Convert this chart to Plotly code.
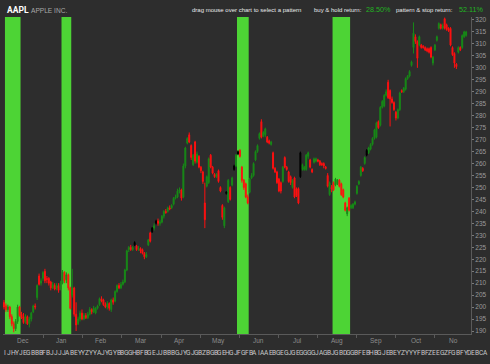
import plotly.graph_objects as go

# ---------------- data ----------------
opens = [202, 200.5, 199, 200, 196, 193, 191, 194, 200, 197,
         196, 194, 196, 193, 195, 198, 200.5, 204, 213, 210,
         212, 215, 212, 212, 210.5, 208, 209, 208, 209, 207.5,
         210, 214.5, 211.5, 213.5, 208, 205, 208, 197, 193, 195,
         197.5, 195, 196.5, 195.5, 197, 199, 198, 197.5, 199.5, 201,
         203.5, 203, 201, 200, 201.5, 199, 203, 202.5, 206.5, 209,
         208, 209.5, 210.5, 215.5, 224, 225, 224, 226, 225.5, 224,
         224.5, 224, 222.5, 221, 226, 231, 231.5, 233, 235, 236,
         235, 235.5, 238, 240, 240, 241.5, 241.5, 243, 245.5, 246,
         248.5, 249, 246, 259, 268.5, 272, 267.5, 259.5, 269, 260.5,
         263, 258.5, 256.5, 243.5, 250.5, 252, 263.5, 258.5, 255.5, 254.5,
         257, 250, 242.5, 234, 247.5, 244, 250, 251, 257.5, 259,
         264, 265.5, 258.5, 253, 251.5, 246, 248, 254, 255, 261.5,
         265, 270.5, 277.5, 271.5, 272, 271, 269.5, 268, 264.5, 258,
         256.5, 253.5, 252, 252.5, 262.5, 258.5, 256.5, 254.5, 250, 254,
         249.5, 249.5, 254.5, 257.5, 257.5, 257.5, 263, 261.5, 257.5, 260.5,
         261, 261.5, 261, 260, 260, 258.5, 255, 247, 250, 252,
         251, 251.5, 253, 251.5, 249, 243.5, 239, 245.5, 241.5, 241.5,
         243, 247.5, 251.5, 255, 258, 260, 263.5, 264.5, 266, 268,
         270.5, 271, 277.5, 276, 283.5, 284, 288.5, 294, 290.5, 287,
         285.5, 281.5, 279, 282.5, 290.5, 290, 291, 295.5, 296.5, 301,
         308.5, 313, 311, 309.5, 309.5, 309, 308.5, 308, 308, 308.5,
         302, 307.5, 311.5, 316.5, 318, 316.5, 320.5, 318, 316.5, 316.5,
         308.5, 306, 301.5, 306.5, 308.5, 308.5, 313, 313.5]

closes = [200, 199, 200, 196, 193, 191, 194, 200, 196.5, 195.5,
          193.5, 196, 193, 195, 197.5, 200.5, 200, 209, 209.5, 211,
          214.5, 211, 211.5, 210, 208, 209.5, 207.5, 209, 207, 210,
          214.5, 211, 213.5, 208, 199.5, 208, 197, 192.5, 195, 197.5,
          195, 196.5, 195.5, 197, 199, 198, 199.5, 199.5, 200.5, 203.5,
          202.5, 201, 200, 201.5, 199.5, 203, 202, 206.5, 209, 208,
          209.5, 210.5, 215.5, 223.5, 225, 224, 225, 227, 224, 224.5,
          223.5, 222.5, 221, 222, 228, 227.5, 233, 234, 236, 235,
          235.5, 238, 240, 239.5, 241.5, 241, 242.5, 245.5, 246, 248.5,
          249, 245.5, 259, 266.5, 270.5, 269, 262.5, 263.5, 261, 264,
          258.5, 257, 252.5, 236.5, 254.5, 262, 258.5, 256, 254.5, 255.5,
          252.5, 248.5, 237.5, 241.5, 248, 253, 245, 254, 259, 263.5,
          265, 263, 253, 250, 246, 243.5, 253.5, 255, 260, 265,
          267.5, 272.5, 271, 273, 274.5, 269, 268.5, 269, 258, 256.5,
          252, 248.5, 248.5, 258.5, 258.5, 257.5, 252.5, 252, 253, 246,
          246.5, 243.5, 264.5, 259.5, 258.5, 263.5, 264.5, 258.5, 256.5, 262,
          262, 261, 259.5, 259.5, 259, 258, 250.5, 252, 249.5, 249,
          253.5, 253, 250.5, 247, 246, 240.5, 241.5, 240.5, 242.5, 243,
          244, 250.5, 252.5, 258.5, 257, 262.5, 265.5, 266.5, 268, 270.5,
          274, 277, 275, 283.5, 286, 288.5, 290, 287.5, 287, 285.5,
          282.5, 279, 282.5, 289.5, 290, 291.5, 295.5, 296.5, 298.5, 302.5,
          314.5, 311, 304, 313, 308.5, 308.5, 307.5, 307, 306.5, 304.5,
          304.5, 309.5, 313, 318.5, 316.5, 317.5, 316.5, 316, 315.5, 309.5,
          305.5, 302, 300.5, 308.5, 307.5, 313.5, 315, 315]

highs = [203, 201.5, 201, 200.5, 197, 194, 195, 201, 200.5, 198,
         197.5, 197, 196.5, 196, 198, 201, 201.5, 209.5, 214, 212,
         215, 216, 213, 212.5, 211, 210.5, 210, 210, 210, 211,
         215.5, 215, 214.5, 214, 208.5, 216, 208.5, 202, 196, 198.5,
         199, 197.5, 197.5, 198, 200, 199.5, 200.5, 200, 201, 204,
         204.5, 203.5, 202, 202.5, 202, 203.5, 204, 207, 209.5, 210,
         210.5, 211.5, 216, 224, 225.5, 226, 225.5, 227.5, 226, 225.5,
         225, 224.5, 223, 223, 228.5, 231.5, 233.5, 235, 236.5, 237,
         236.5, 238.5, 240.5, 241, 242, 242.5, 243, 246, 247, 249.5,
         250, 249.5, 260, 267, 271, 273, 268, 264, 269.5, 265,
         263.5, 259, 257, 252, 255, 262.5, 264, 259, 256, 256,
         257.5, 250.5, 243, 242, 248.5, 253.5, 250.5, 254.5, 259.5, 264,
         265.5, 266, 259, 253.5, 252, 247, 254, 256, 260.5, 265.5,
         268, 273, 278.5, 273.5, 275, 271.5, 270, 269.5, 265, 258.5,
         257, 254, 252.5, 259, 263, 259, 257, 255, 253.5, 254.5,
         250, 250, 265, 260, 259, 264, 265, 262, 258, 262.5,
         262.5, 262, 261.5, 260.5, 260.5, 259, 256, 252.5, 251, 252.5,
         254, 253.5, 253.5, 252, 249.5, 244, 242, 246, 243, 243.5,
         244.5, 251, 253, 259, 258.5, 263, 266, 267, 268.5, 271,
         274.5, 277.5, 278, 284, 286.5, 289, 291, 295, 291, 288,
         286, 282, 283, 290, 291, 292, 296, 297, 299, 303,
         319, 314, 311.5, 313.5, 310, 309.5, 309, 308.5, 308.5, 309,
         305, 310, 313.5, 319, 318.5, 318.5, 321, 318.5, 317, 317,
         309, 306.5, 302, 309, 309, 314, 315.5, 315.5]

lows = [199, 198, 198, 195, 192, 189.5, 190, 193, 196, 195,
        193, 193, 192.5, 191.5, 194, 197.5, 199, 203, 209, 209,
        211, 210, 210, 209, 207, 207.5, 207, 207, 206, 207,
        209.5, 210, 210, 207, 199, 204, 196, 190, 192.5, 194,
        194.5, 194.5, 195, 195, 196.5, 197, 197.5, 197, 199, 200.5,
        202, 200.5, 199.5, 199, 198.5, 198, 201, 202, 206, 207.5,
        207.5, 209, 210, 215, 223, 223.5, 223.5, 225.5, 223.5, 223.5,
        222.5, 222, 220, 220.5, 225.5, 227, 231, 232, 234.5, 234,
        234, 235, 237, 239, 239.5, 240.5, 241, 242.5, 245, 245.5,
        247.5, 244.5, 245.5, 258, 268, 268.5, 261.5, 259, 260, 260,
        258, 256, 251.5, 233, 250, 251.5, 258, 255.5, 254, 254,
        252, 248, 236.5, 233, 247, 243.5, 244.5, 250.5, 257, 258.5,
        263.5, 262.5, 252, 249, 245.5, 243, 247.5, 253.5, 254.5, 261,
        264.5, 270, 270.5, 271, 271, 268.5, 268, 267.5, 257.5, 256,
        251.5, 248, 247.5, 252, 258, 257, 252, 251, 249.5, 245.5,
        246, 243, 254, 257, 257, 257, 262, 258, 256, 260,
        260.5, 260.5, 259, 259, 258, 257.5, 250, 246.5, 248, 248.5,
        250.5, 251, 250, 246.5, 245.5, 240, 238, 240, 241, 241,
        242.5, 247, 251, 254.5, 256.5, 259.5, 263, 264, 265.5, 267.5,
        270, 270.5, 274.5, 275.5, 283, 283.5, 288, 287, 275.5, 285,
        282, 278, 278.5, 282, 289.5, 289.5, 290.5, 295, 296, 300.5,
        306, 310, 300, 309, 308, 308, 307, 306.5, 306, 304,
        301, 307, 311, 316, 316, 316, 316, 315.5, 315, 309,
        305, 300, 299.5, 306, 307, 308, 312.5, 313]

black_bars = [67, 76, 78, 114, 118, 120, 152, 186]

pattern_start = [1, 30, 120, 169]
pattern_end = [8, 34, 125, 177]

month_labels = ["Dec", "Jan", "Feb", "Mar", "Apr", "May", "Jun", "Jul", "Aug", "Sep", "Oct", "No"]
month_label_pos = [9.7, 29.7, 49.7, 70.2, 90.2, 110.2, 130.5, 150.5, 170.9, 190.9, 211.4, 230.3]
month_bounds = [20.2, 40.2, 60.4, 80.6, 100.6, 120.6, 140.6, 160.8, 180.8, 200.9, 220.6]

y_ticks = list(range(190, 325, 5))

pattern_letters = ("IJHYJEGBBBFBJJJJABEYYZYYAJYGYBBGGHBFBGEJJBBBGJYGJGBZBGBGEHGJFGF"
                   "BAIAAEBGEGJGEGGGGJAGBJGBDGGBFEBHBGJEBEYZYYYFBFZEEGZFGBFYDEBCA")

buy_hold = "28.50%"
pattern_stop = "52.11%"

# ---------------- figure ----------------
W, H = 490, 364
ML, MR, MT, MB = 3, 19, 17, 30
PW, PH = W - ML - MR, H - MT - MB

BG = "#2d2d2d"
UP = "#178a17"
DOWN = "#ff1010"
BAND = "#4dd435"

idx = list(range(len(opens)))
norm = [i for i in idx if i not in black_bars]

fig = go.Figure()
fig.add_trace(go.Candlestick(
    x=norm,
    open=[opens[i] for i in norm], high=[highs[i] for i in norm],
    low=[lows[i] for i in norm], close=[closes[i] for i in norm],
    increasing=dict(line=dict(color=UP, width=1), fillcolor=UP),
    decreasing=dict(line=dict(color=DOWN, width=1), fillcolor=DOWN),
    whiskerwidth=0, showlegend=False, hoverinfo="skip",
))
fig.add_trace(go.Candlestick(
    x=black_bars,
    open=[opens[i] for i in black_bars], high=[highs[i] for i in black_bars],
    low=[lows[i] for i in black_bars], close=[closes[i] for i in black_bars],
    increasing=dict(line=dict(color="#000000", width=1), fillcolor="#000000"),
    decreasing=dict(line=dict(color="#000000", width=1), fillcolor="#000000"),
    whiskerwidth=0, showlegend=False, hoverinfo="skip",
))

shapes = []
for s, e in zip(pattern_start, pattern_end):
    shapes.append(dict(type="rect", xref="x", yref="paper", x0=s - 0.5, x1=e + 0.5,
                       y0=0, y1=1, fillcolor=BAND, line=dict(width=0), layer="below"))


def px2paper_x(px):
    return (px - ML) / PW


def py2paper_y(py):
    return (H - MB - py) / PH


annotations = []
FONT = "Liberation Sans"
# header
annotations.append(dict(text="<b>AAPL</b>", x=px2paper_x(4.5), y=py2paper_y(10), xref="paper", yref="paper",
                        xanchor="left", yanchor="middle", showarrow=False,
                        font=dict(family="Roboto", size=8.5, color="#ffffff")))
annotations.append(dict(text="APPLE INC.", x=px2paper_x(28.5), y=py2paper_y(10.5), xref="paper", yref="paper",
                        xanchor="left", yanchor="middle", showarrow=False,
                        font=dict(family=FONT, size=6.6, color="#a8a8a8")))
annotations.append(dict(text="drag mouse over chart to select a pattern", x=px2paper_x(190), y=py2paper_y(10),
                        xref="paper", yref="paper", xanchor="left", yanchor="middle", showarrow=False,
                        font=dict(family=FONT, size=6, color="#e8e8e8")))
annotations.append(dict(text="buy &amp; hold return:", x=px2paper_x(312), y=py2paper_y(10),
                        xref="paper", yref="paper", xanchor="left", yanchor="middle", showarrow=False,
                        font=dict(family=FONT, size=6, color="#e8e8e8")))
annotations.append(dict(text=buy_hold, x=px2paper_x(364), y=py2paper_y(10),
                        xref="paper", yref="paper", xanchor="left", yanchor="middle", showarrow=False,
                        font=dict(family=FONT, size=7.2, color="#22b422")))
annotations.append(dict(text="pattern &amp; stop return:", x=px2paper_x(394), y=py2paper_y(10),
                        xref="paper", yref="paper", xanchor="left", yanchor="middle", showarrow=False,
                        font=dict(family=FONT, size=6, color="#e8e8e8")))
annotations.append(dict(text=pattern_stop, x=px2paper_x(457), y=py2paper_y(10),
                        xref="paper", yref="paper", xanchor="left", yanchor="middle", showarrow=False,
                        font=dict(family=FONT, size=7.2, color="#22b422")))

# month labels
for lab, pos in zip(month_labels, month_label_pos):
    annotations.append(dict(text=lab, x=pos, y=py2paper_y(340.5), xref="x", yref="paper",
                            xanchor="center", yanchor="middle", showarrow=False,
                            font=dict(family=FONT, size=6.5, color="#8c8c8c")))

# pattern letters row: one letter per slot, evenly spaced
step = (487 - 3.5) / len(pattern_letters)
for k, ch in enumerate(pattern_letters):
    annotations.append(dict(text=ch, x=px2paper_x(3.5 + (k + 0.5) * step), y=py2paper_y(352.5),
                            xref="paper", yref="paper", xanchor="center", yanchor="middle",
                            showarrow=False, borderpad=0,
                            font=dict(family="Roboto", size=6.6, color="#c8c8c8")))

fig.update_layout(
    width=W, height=H,
    margin=dict(l=ML, r=MR, t=MT, b=MB, pad=0),
    paper_bgcolor=BG, plot_bgcolor=BG,
    shapes=shapes, annotations=annotations,
    showlegend=False,
    xaxis=dict(range=[-0.5, 239.5], rangeslider=dict(visible=False), showgrid=False, zeroline=False,
               showline=True, linecolor="#5a5a5a", linewidth=1,
               tickvals=month_bounds, ticktext=["" for _ in month_bounds],
               ticks="outside", ticklen=3, tickcolor="#5a5a5a", fixedrange=True),
    yaxis=dict(range=[188.75, 321.25], side="right", showgrid=False, zeroline=False,
               showline=True, linecolor="#5a5a5a", linewidth=1,
               tickvals=y_ticks, ticks="outside", ticklen=2, tickcolor="#7a7a7a",
               tickfont=dict(family=FONT, size=6.5, color="#9a9a9a"), fixedrange=True),
)

fig.write_html("out.html")
